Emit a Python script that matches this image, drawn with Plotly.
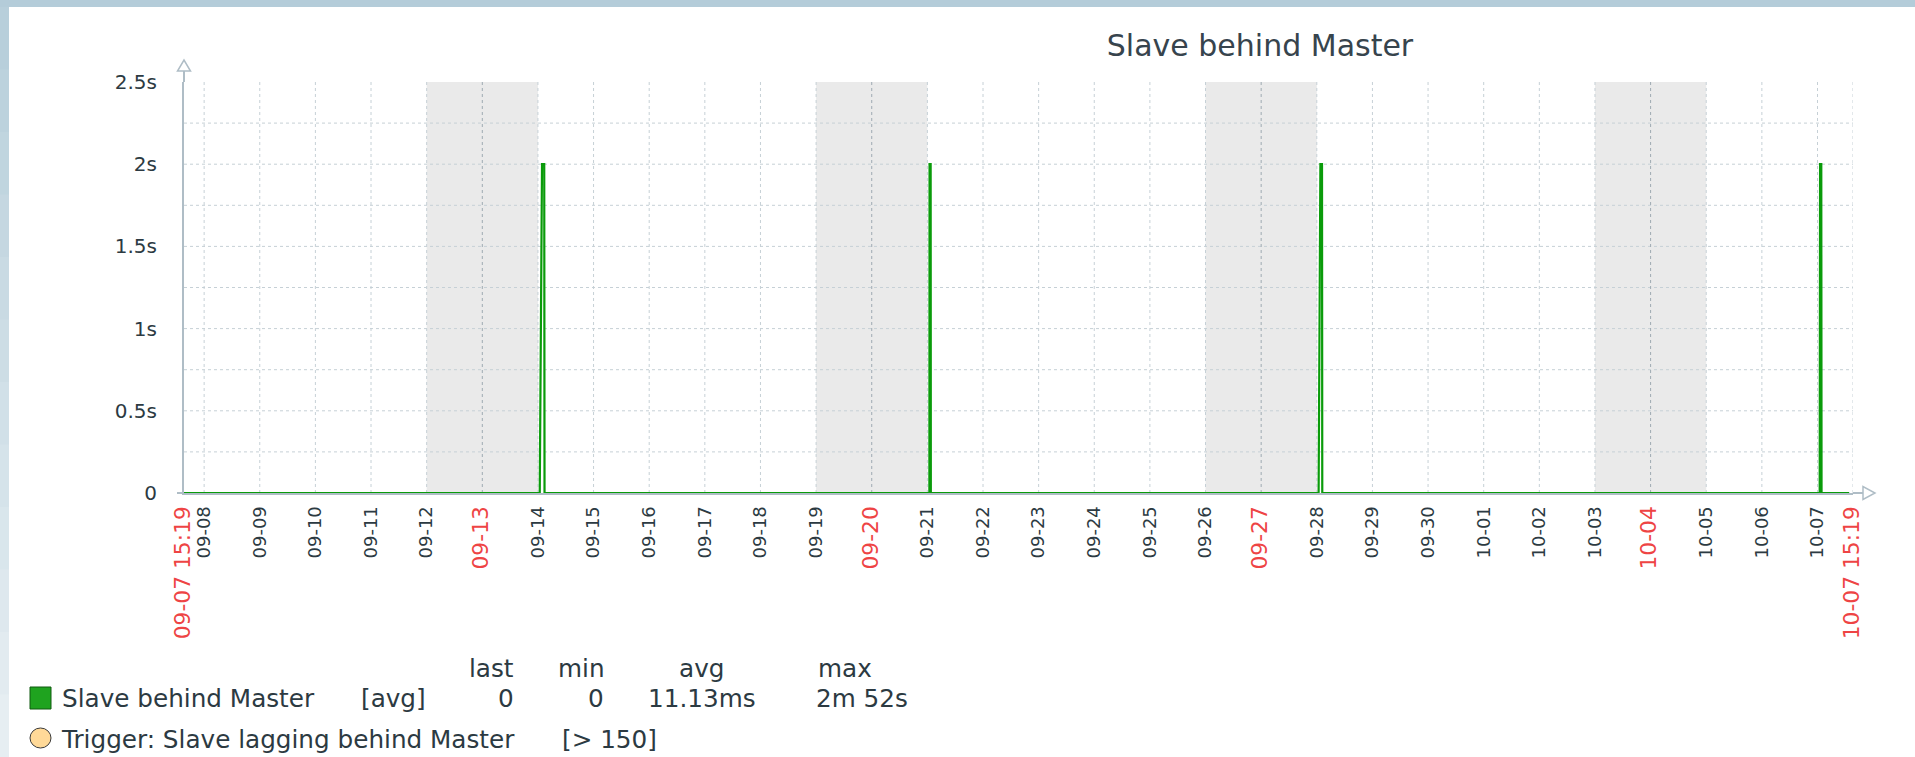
import plotly.graph_objects as go

# ---------------- data ----------------
title_text = "Slave behind Master"
series_name = "Slave behind Master"
range_start = "2020-09-07 15:19"
range_end = "2020-10-07 15:19"

times = [
    "2020-09-07 15:19",
    "2020-09-14 00:47", "2020-09-14 01:46", "2020-09-14 02:43", "2020-09-14 02:51",
    "2020-09-21 00:52", "2020-09-21 00:57", "2020-09-21 01:25", "2020-09-21 01:30",
    "2020-09-28 00:47", "2020-09-28 01:33", "2020-09-28 02:15", "2020-09-28 02:22",
    "2020-10-07 00:57", "2020-10-07 01:07", "2020-10-07 01:38", "2020-10-07 01:45",
    "2020-10-07 13:40",
]
lag_seconds = [0,
               0, 2.0, 2.0, 0,
               0, 2.0, 2.0, 0,
               0, 2.0, 2.0, 0,
               0, 2.0, 2.0, 0,
               0]

day_ticks = [
    "2020-09-08", "2020-09-09", "2020-09-10", "2020-09-11", "2020-09-12",
    "2020-09-13", "2020-09-14", "2020-09-15", "2020-09-16", "2020-09-17",
    "2020-09-18", "2020-09-19", "2020-09-20", "2020-09-21", "2020-09-22",
    "2020-09-23", "2020-09-24", "2020-09-25", "2020-09-26", "2020-09-27",
    "2020-09-28", "2020-09-29", "2020-09-30", "2020-10-01", "2020-10-02",
    "2020-10-03", "2020-10-04", "2020-10-05", "2020-10-06", "2020-10-07",
]
sundays = ["2020-09-13", "2020-09-20", "2020-09-27", "2020-10-04"]
weekend_start = ["2020-09-12", "2020-09-19", "2020-09-26", "2020-10-03"]
weekend_end = ["2020-09-14", "2020-09-21", "2020-09-28", "2020-10-05"]

y_tick_vals = [0, 0.5, 1.0, 1.5, 2.0, 2.5]
y_tick_text = ["0", "0.5s", "1s", "1.5s", "2s", "2.5s"]
y_grid_vals = [0.25, 0.5, 0.75, 1.0, 1.25, 1.5, 1.75, 2.0, 2.25]

legend_headers = ["last", "min", "avg", "max"]
legend_values = ["0", "0", "11.13ms", "2m 52s"]
legend_func = "[avg]"
trigger_name = "Trigger: Slave lagging behind Master"
trigger_cond = "[> 150]"

# ---------------- style ----------------
W, H = 1915, 757
PL, PR, PT, PB = 184, 1853, 82, 493
FONT = "DejaVu Sans"
TXT = "#2C3A42"
RED = "#EE4444"
GRID = "#C6D0D6"
GRID_MAIN = "#9EAAB2"
AXIS = "#AFBDC6"
LINE = "#0A9B0A"
DASH = "3px,3px"


def fx(p):
    return (p - PL) / (PR - PL)


def fy(p):
    return (PB - p) / (PB - PT)


def md(s):
    return s[5:10]


x_tick_vals = [range_start] + day_ticks + [range_end]
x_tick_text = []
for v in x_tick_vals:
    if v in (range_start, range_end):
        x_tick_text.append('<span style="color:%s;font-size:21.8px">%s</span>' % (RED, v[5:16]))
    elif v in sundays:
        x_tick_text.append('<span style="color:%s;font-size:21.8px">%s</span>' % (RED, md(v)))
    else:
        x_tick_text.append(md(v))

fig = go.Figure()
fig.add_trace(go.Scatter(
    x=times, y=lag_seconds, mode="lines",
    line=dict(color=LINE, width=2.2), name=series_name,
    hoverinfo="skip", showlegend=False,
))

shapes = []
# background frame bands
shapes.append(dict(type="rect", xref="paper", yref="paper",
                   x0=fx(0), x1=fx(W), y0=fy(0), y1=fy(7),
                   fillcolor="#B4CCD9", line_width=0, layer="below"))
n = 12
c0 = (0xB8, 0xCF, 0xDB)
c1 = (0xE6, 0xEE, 0xF2)
for i in range(n):
    t = i / (n - 1)
    col = "rgb(%d,%d,%d)" % tuple(round(a + (b - a) * t) for a, b in zip(c0, c1))
    shapes.append(dict(type="rect", xref="paper", yref="paper",
                       x0=fx(0), x1=fx(9),
                       y0=fy(7 + (H - 7) * i / n), y1=fy(7 + (H - 7) * (i + 1) / n + 0.5),
                       fillcolor=col, line_width=0, layer="below"))

# weekend shading
for s, e in zip(weekend_start, weekend_end):
    shapes.append(dict(type="rect", xref="x", yref="paper", x0=s, x1=e, y0=0, y1=1,
                       fillcolor="#EAEAEA", line_width=0, layer="below"))
# horizontal grid
for v in y_grid_vals:
    shapes.append(dict(type="line", xref="paper", yref="y", x0=0, x1=1, y0=v, y1=v,
                       line=dict(color=GRID, width=1, dash=DASH), layer="below"))
# vertical grid (darker on Sundays)
for d in day_ticks + [range_end]:
    shapes.append(dict(type="line", xref="x", yref="paper", x0=d, x1=d, y0=0, y1=1,
                       line=dict(color=GRID_MAIN if d in sundays else GRID, width=1, dash=DASH),
                       layer="below"))

# axis extensions and arrows
shapes.append(dict(type="line", xref="paper", yref="paper", x0=0, x1=0, y0=1, y1=fy(PT - 11),
                   line=dict(color=AXIS, width=2)))
shapes.append(dict(type="path", xref="paper", yref="paper",
                   path="M %f,%f L %f,%f L %f,%f Z" % (fx(PL - 6.5), fy(PT - 11), fx(PL + 6.5), fy(PT - 11), fx(PL), fy(PT - 22)),
                   line=dict(color=AXIS, width=1.5), fillcolor="white"))
shapes.append(dict(type="line", xref="paper", yref="paper", x0=fx(PL - 7), x1=0, y0=0, y1=0,
                   line=dict(color=AXIS, width=2)))
shapes.append(dict(type="line", xref="paper", yref="paper", x0=1, x1=fx(PR + 10), y0=0, y1=0,
                   line=dict(color=AXIS, width=2)))
shapes.append(dict(type="path", xref="paper", yref="paper",
                   path="M %f,%f L %f,%f L %f,%f Z" % (fx(PR + 10), fy(PB - 6.5), fx(PR + 10), fy(PB + 6.5), fx(PR + 22), fy(PB)),
                   line=dict(color=AXIS, width=1.5), fillcolor="white"))

# legend symbols
shapes.append(dict(type="rect", xref="paper", yref="paper",
                   x0=fx(30), x1=fx(51), y0=fy(709), y1=fy(687),
                   fillcolor="#1FA31F", line=dict(color="#115A11", width=1)))
shapes.append(dict(type="circle", xref="paper", yref="paper",
                   x0=fx(30), x1=fx(51), y0=fy(748), y1=fy(728),
                   fillcolor="#FFD998", line=dict(color="#3A3A3A", width=1)))

annotations = []
LFS = 24.7


def txt(s, left, center_y, anchor="left", size=LFS, color=TXT):
    annotations.append(dict(text=s, xref="paper", yref="paper", x=fx(left), y=fy(center_y),
                            xanchor=anchor, yanchor="middle", showarrow=False, borderpad=0,
                            font=dict(family=FONT, size=size, color=color)))


hdr_y, row1_y, row2_y = 668.5, 698.5, 739.0
header_left = [469, 558, 679, 818]
value_left = [498, 588, 648, 816]
for h, x in zip(legend_headers, header_left):
    txt(h, x - 1, hdr_y)
for v, x in zip(legend_values, value_left):
    txt(v, x - 1, row1_y)
txt(series_name, 61, row1_y)
txt(legend_func, 360, row1_y)
txt(trigger_name, 60, row2_y)
txt(trigger_cond, 561, row2_y)

fig.update_layout(
    width=W, height=H, autosize=False,
    margin=dict(l=PL, r=W - PR, t=PT, b=H - PB, pad=0),
    paper_bgcolor="white", plot_bgcolor="rgba(0,0,0,0)",
    showlegend=False,
    title=dict(text=title_text, xref="container", yref="container",
               x=1260 / W, y=1 - 45.5 / H, xanchor="center", yanchor="middle",
               font=dict(family=FONT, size=30, color="#37444D")),
    xaxis=dict(type="date", range=[range_start, range_end], tickmode="array",
               tickvals=x_tick_vals, ticktext=x_tick_text, tickangle=-90,
               tickfont=dict(family=FONT, size=18, color=TXT), ticks="",
               showgrid=False, showline=True, linecolor=AXIS, linewidth=2, zeroline=False,
               layer="below traces", automargin=False, ticklabelstandoff=4),
    yaxis=dict(range=[0, 2.5], tickmode="array", tickvals=y_tick_vals, ticktext=y_tick_text,
               tickfont=dict(family=FONT, size=20, color=TXT), ticks="",
               showgrid=False, showline=True, linecolor=AXIS,
               linewidth=2, zeroline=False, layer="below traces", automargin=False,
               ticklabelstandoff=21),
    shapes=shapes, annotations=annotations,
)

fig.write_html("out.html", config={"displayModeBar": False},
               post_script="document.body.style.margin='0px';")
